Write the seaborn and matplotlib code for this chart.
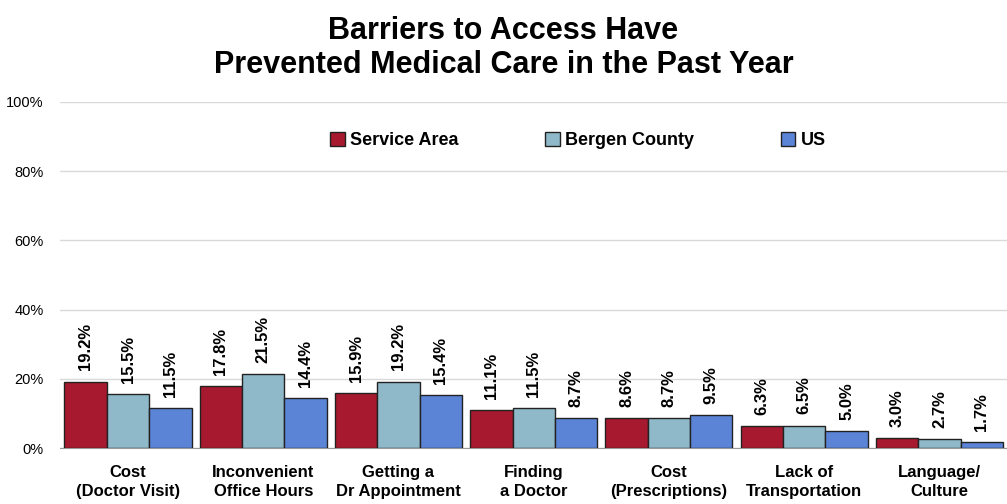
import pandas as pd
import matplotlib.pyplot as plt
import seaborn as sns
from matplotlib.ticker import PercentFormatter

# === Data ===
categories = ["Cost\n(Doctor Visit)", "Inconvenient\nOffice Hours", "Getting a\nDr Appointment",
              "Finding\na Doctor", "Cost\n(Prescriptions)", "Lack of\nTransportation", "Language/\nCulture"]
service_area = [19.2, 17.8, 15.9, 11.1, 8.6, 6.3, 3.0]
bergen_county = [15.5, 21.5, 19.2, 11.5, 8.7, 6.5, 2.7]
us = [11.5, 14.4, 15.4, 8.7, 9.5, 5.0, 1.7]
series_names = ["Service Area", "Bergen County", "US"]
colors = ["#A6192E", "#8FB8C8", "#5B84D6"]

df = pd.DataFrame({"Barrier": categories * 3,
                   "Group": [series_names[0]] * 7 + [series_names[1]] * 7 + [series_names[2]] * 7,
                   "Value": service_area + bergen_county + us})

sns.set_style("white")
plt.rcParams["font.family"] = ["Liberation Sans", "DejaVu Sans"]
plt.rcParams["text.color"] = "black"
plt.rcParams["xtick.color"] = "black"
plt.rcParams["ytick.color"] = "black"

fig = plt.figure(figsize=(10.07, 5.04), dpi=100)
ax = fig.add_axes([0.06, 0.111, 0.94, 0.687])

sns.barplot(data=df, x="Barrier", y="Value", hue="Group", palette=colors, saturation=1,
            width=0.94, edgecolor="#222222", linewidth=1.0, ax=ax, zorder=3)

# value labels
for container in ax.containers:
    ax.bar_label(container, labels=[f"{v:.1f}%" for v in container.datavalues],
                 rotation=90, padding=8, fontsize=12, fontweight="bold")

ax.set_ylim(0, 100)
ax.set_yticks([0, 20, 40, 60, 80, 100])
ax.yaxis.set_major_formatter(PercentFormatter(decimals=0))
ax.grid(axis="y", color="#d9d9d9", linewidth=1, zorder=0)
ax.set_xlim(-0.5, 6.5)
ax.set_xlabel("")
ax.set_ylabel("")
for s in ["top", "right", "left"]:
    ax.spines[s].set_visible(False)
ax.spines["bottom"].set_color("#999999")
ax.tick_params(axis="y", labelsize=10.5, length=0, pad=12)
ax.tick_params(axis="x", length=0, pad=12)
for lbl in ax.get_xticklabels():
    lbl.set_fontweight("bold")
    lbl.set_fontsize(12)
    lbl.set_linespacing(1.35)

ax.legend(loc="upper center", bbox_to_anchor=(0.547, 0.96), ncol=3, frameon=False,
          prop={"weight": "bold", "size": 13}, handlelength=0.8, handleheight=0.8,
          handletextpad=0.3, columnspacing=4.8)

fig.suptitle("Barriers to Access Have\nPrevented Medical Care in the Past Year",
             fontsize=22, fontweight="bold", y=0.969, linespacing=1.2)

plt.savefig("out.png", dpi=100)
plt.close()
